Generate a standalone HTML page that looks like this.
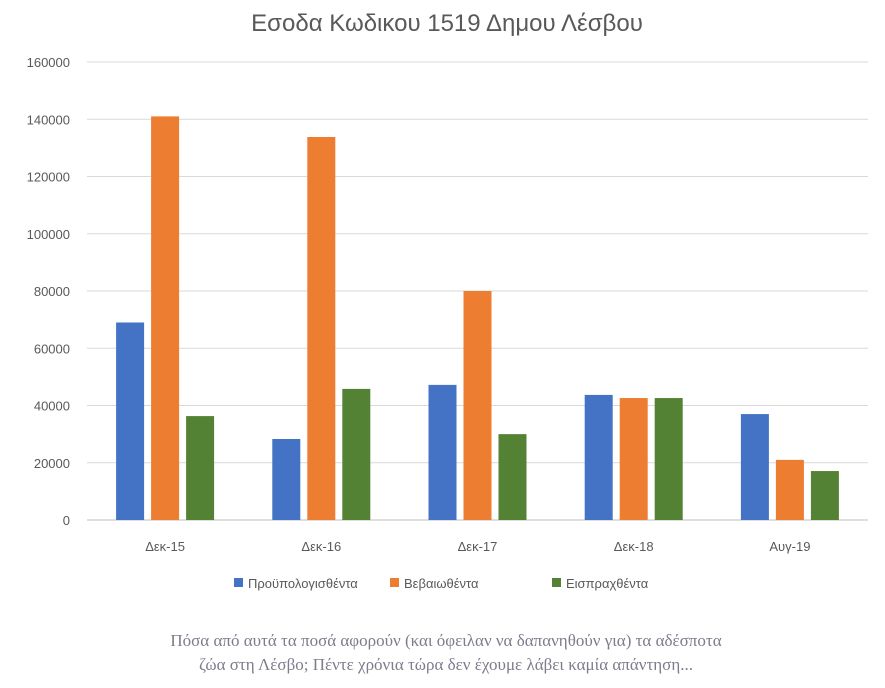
<!DOCTYPE html>
<html><head><meta charset="utf-8"><style>
body{margin:0;background:#fff;width:885px;height:683px;overflow:hidden;font-family:"Liberation Sans",sans-serif}
</style></head><body>
<svg width="885" height="683" id="chart" xmlns="http://www.w3.org/2000/svg">
<text x="447" y="31" text-anchor="middle" font-size="24" fill="#595959">Εσοδα Κωδικου 1519 Δημου Λέσβου</text>
<g id="grid"></g><g id="bars"></g><g id="legend"></g>
<text x="446" y="646" text-anchor="middle" font-family="Liberation Serif,serif" font-size="17" fill="#7d7d8c">Πόσα από αυτά τα ποσά αφορούν (και όφειλαν να δαπανηθούν για) τα αδέσποτα</text>
<text x="446" y="670" text-anchor="middle" font-family="Liberation Serif,serif" font-size="17" fill="#7d7d8c">ζώα στη Λέσβο; Πέντε χρόνια τώρα δεν έχουμε λάβει καμία απάντηση...</text>
</svg>
<script>
const categories=["Δεκ-15","Δεκ-16","Δεκ-17","Δεκ-18","Αυγ-19"];
const budgeted=[69000,28300,47200,43700,37000];
const certified=[141000,133800,80000,42600,21000];
const collected=[36300,45800,30000,42600,17100];
const ticks=[0,20000,40000,60000,80000,100000,120000,140000,160000];
const seriesNames=["Προϋπολογισθέντα","Βεβαιωθέντα","Εισπραχθέντα"];
const colors=["#4472c4","#ed7d31","#548235"];
const NS="http://www.w3.org/2000/svg";
const x0=87,x1=868,y0=520,yTop=62,maxV=160000;
const y=v=>y0-(v/maxV)*(y0-yTop);
const band=(x1-x0)/categories.length;
const cx=i=>x0+band*(i+0.5);
function mk(t,a,p){const e=document.createElementNS(NS,t);for(const k in a)e.setAttribute(k,a[k]);p.appendChild(e);return e;}
const grid=document.getElementById('grid');
ticks.forEach(t=>{
 const l=mk('line',{x1:x0,x2:x1,y1:y(t),y2:y(t),stroke:t===0?'#bfbfbf':'#d9d9d9','stroke-width':1},grid);
 
 
 const tx=mk('text',{x:70,y:y(t)+5,'text-anchor':'end','font-size':13,fill:'#595959'},grid);
 tx.textContent=t;
 
 
});
const bars=document.getElementById('bars');
const series=[budgeted,certified,collected];
const bw=28,gap=7;
categories.forEach((c,i)=>{
 series.forEach((s,j)=>{
  const bx=cx(i)+(j-1)*(bw+gap)-bw/2;
  const r=mk('rect',{x:bx,y:y(s[i]),width:bw,height:y0-y(s[i]),fill:colors[j]},bars);
  
  
 });
 const t=mk('text',{x:cx(i),y:551,'text-anchor':'middle','font-size':13,fill:'#595959'},bars);
 t.textContent=c;
 
 
});
const lg=document.getElementById('legend');
const lx=[234,390,552];
seriesNames.forEach((n,j)=>{
 const r=mk('rect',{x:lx[j],y:578,width:9,height:9,fill:colors[j]},lg);
 
 
 const t=mk('text',{x:lx[j]+14,y:588,'font-size':13,fill:'#595959'},lg);
 t.textContent=n;
 
 
});
</script>
</body></html>
